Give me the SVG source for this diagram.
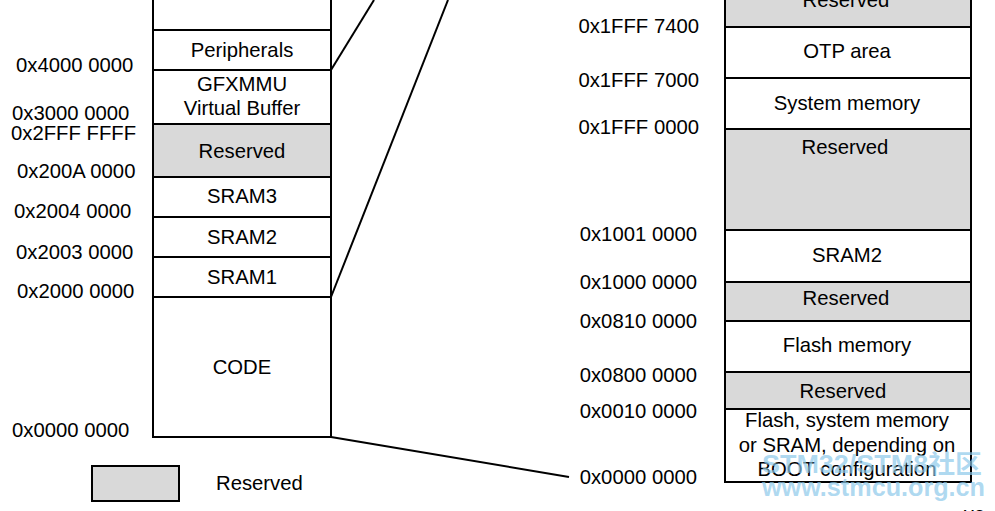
<svg xmlns="http://www.w3.org/2000/svg" width="995" height="511" viewBox="0 0 995 511">
<style>
  .t{font-family:"Liberation Sans",Arial,sans-serif;font-size:20.3px;fill:#000}
  .c{text-anchor:middle}
  .e{text-anchor:end}
  .b{fill:#fff;stroke:#000;stroke-width:2}
  .r{fill:#d9d9d9;stroke:#000;stroke-width:2}
  .ln{stroke:#000;stroke-width:2;fill:none}
  .wm{font-family:"Liberation Sans",Arial,"Noto Sans CJK SC",sans-serif;font-size:25px;font-weight:bold;fill:#8cc8ea;fill-opacity:0.7}
</style>
<rect width="995" height="511" fill="#fff"/>

<g id="left-map">
  <g id="l-top"><rect class="b" x="153" y="-10" width="178" height="40"/></g>
  <g id="l-periph"><rect class="b" x="153" y="30" width="178" height="40"/><text class="t c" x="242" y="57">Peripherals</text></g>
  <g id="l-gfxmmu"><rect class="b" x="153" y="70" width="178" height="54"/><text class="t c" x="242" y="91">GFXMMU</text><text class="t c" x="242" y="115">Virtual Buffer</text></g>
  <g id="l-reserved"><rect class="r" x="153" y="124" width="178" height="53"/><text class="t c" x="242" y="158">Reserved</text></g>
  <g id="l-sram3"><rect class="b" x="153" y="177" width="178" height="40"/><text class="t c" x="242" y="203">SRAM3</text></g>
  <g id="l-sram2"><rect class="b" x="153" y="217" width="178" height="40"/><text class="t c" x="242" y="244">SRAM2</text></g>
  <g id="l-sram1"><rect class="b" x="153" y="257" width="178" height="40"/><text class="t c" x="242" y="284">SRAM1</text></g>
  <g id="l-code"><rect class="b" x="153" y="297" width="178" height="140"/><text class="t c" x="242" y="374">CODE</text></g>
</g>

<g id="left-addr">
  <text class="t" x="16" y="72">0x4000 0000</text>
  <text class="t" x="12" y="120">0x3000 0000</text>
  <text class="t" x="11" y="140">0x2FFF FFFF</text>
  <text class="t" x="17" y="178">0x200A 0000</text>
  <text class="t" x="14" y="218">0x2004 0000</text>
  <text class="t" x="16" y="259">0x2003 0000</text>
  <text class="t" x="17" y="298">0x2000 0000</text>
  <text class="t" x="12" y="437">0x0000 0000</text>
</g>

<g id="right-map">
  <g id="r-reserved-top"><rect class="r" x="725" y="-10" width="246" height="37"/><text class="t c" x="846" y="7">Reserved</text></g>
  <g id="r-otp"><rect class="b" x="725" y="27" width="246" height="51"/><text class="t c" x="847" y="58">OTP area</text></g>
  <g id="r-sysmem"><rect class="b" x="725" y="78" width="246" height="51"/><text class="t c" x="847" y="110">System memory</text></g>
  <g id="r-reserved1"><rect class="r" x="725" y="129" width="246" height="101"/><text class="t c" x="845" y="154">Reserved</text></g>
  <g id="r-sram2"><rect class="b" x="725" y="230" width="246" height="52"/><text class="t c" x="847" y="262">SRAM2</text></g>
  <g id="r-reserved2"><rect class="r" x="725" y="282" width="246" height="39"/><text class="t c" x="846" y="305">Reserved</text></g>
  <g id="r-flash"><rect class="b" x="725" y="321" width="246" height="51"/><text class="t c" x="847" y="352">Flash memory</text></g>
  <g id="r-reserved3"><rect class="r" x="725" y="372" width="246" height="37"/><text class="t c" x="843" y="398">Reserved</text></g>
  <g id="r-boot"><rect class="b" x="725" y="409" width="246" height="73"/>
    <text class="t c" x="847" y="427">Flash, system memory</text>
    <text class="t c" x="847" y="452">or SRAM, depending on</text>
    <text class="t c" x="847" y="476">BOOT configuration</text>
  </g>
</g>

<g id="right-addr">
  <text class="t e" x="699" y="33">0x1FFF 7400</text>
  <text class="t e" x="699" y="87">0x1FFF 7000</text>
  <text class="t e" x="699" y="134">0x1FFF 0000</text>
  <text class="t e" x="697" y="241">0x1001 0000</text>
  <text class="t e" x="697" y="289">0x1000 0000</text>
  <text class="t e" x="697" y="328">0x0810 0000</text>
  <text class="t e" x="697" y="382">0x0800 0000</text>
  <text class="t e" x="697" y="418">0x0010 0000</text>
  <text class="t e" x="697" y="484">0x0000 0000</text>
</g>

<g id="connectors">
  <line class="ln" x1="331" y1="70" x2="374" y2="0"/>
  <line class="ln" x1="331" y1="297" x2="448" y2="0"/>
  <line class="ln" x1="331" y1="437" x2="569" y2="477"/>
</g>

<g id="legend">
  <rect class="r" x="92" y="466" width="87" height="35"/>
  <text class="t" x="216" y="490">Reserved</text>
</g>

<g id="watermark">
  <text class="wm" x="762" y="473" textLength="220" lengthAdjust="spacingAndGlyphs">STM32/STM8社区</text>
  <text class="wm" x="762" y="496" textLength="223" lengthAdjust="spacingAndGlyphs">www.stmcu.org.cn</text>
</g>
<text class="t" x="963" y="520" style="font-size:14px">MS</text>
</svg>
